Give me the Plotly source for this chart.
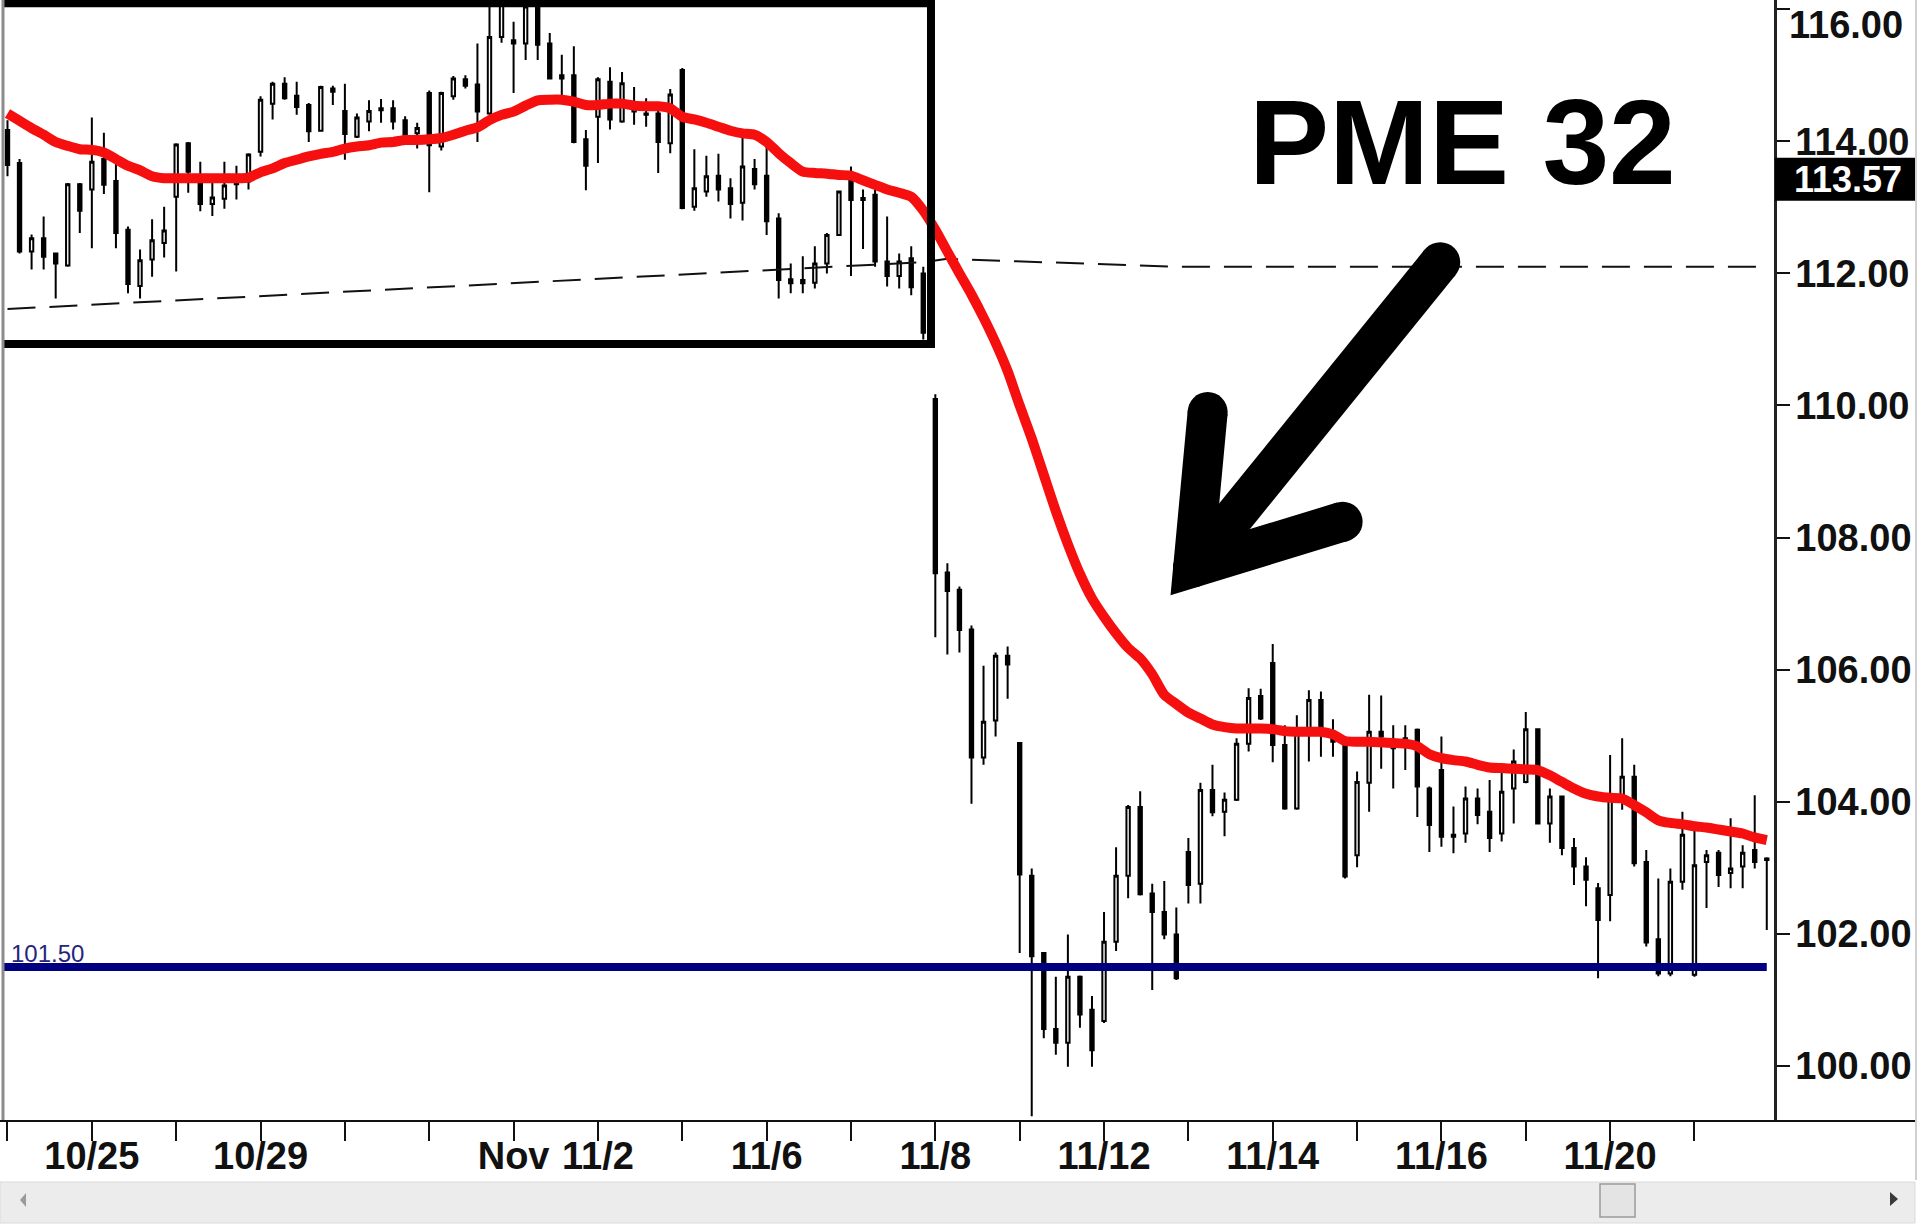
import plotly.graph_objects as go

# ---------------- data ----------------
bar_index = list(range(147))

opens = [114.17, 113.67, 112.33, 112.53, 112.30, 112.12, 113.35, 113.27, 113.73, 113.40,
         112.66, 111.81, 112.21, 112.46, 113.16, 113.97, 113.39, 113.05, 113.13, 113.35,
         113.39, 113.84, 114.57, 114.87, 114.69, 114.55, 114.16, 114.80, 114.46, 114.07,
         114.30, 114.47, 114.50, 114.32, 114.12, 114.73, 113.92, 114.68, 114.94, 114.86,
         114.42, 115.58, 115.53, 115.48, 116.25, 115.48, 115.00, 115.00, 114.03, 114.37,
         114.90, 114.30, 114.45, 114.42, 114.42, 113.97, 115.08, 113.01, 113.24, 113.48,
         113.29, 113.07, 113.58, 113.48, 112.83, 111.91, 111.90, 111.86, 112.15, 112.58,
         113.49, 113.14, 113.19, 112.18, 111.96, 112.23, 112.00,
         110.10, 107.47, 107.21, 106.61, 104.67, 105.23, 106.21, 104.89, 102.88, 101.71,
         100.56, 100.35, 101.35, 100.85, 100.68, 101.88, 102.88, 103.92, 102.61, 102.33, 101.99,
         103.24, 102.76, 104.18, 103.85, 104.03, 104.88, 105.60, 106.10, 104.86, 103.90,
         105.06, 105.54, 104.99, 104.88, 103.19, 104.29, 105.06, 104.86, 104.93, 105.09,
         104.20, 104.48, 103.50, 103.52, 104.05, 103.85, 103.52, 104.20, 104.30, 105.10,
         103.67, 104.08, 103.30, 103.02, 102.69, 102.59, 104.03, 104.38, 103.09, 101.92,
         101.40, 102.79, 101.38, 103.09, 103.23, 102.92, 103.02, 103.27, 103.14]

highs = [114.32, 113.73, 112.59, 112.86, 112.30, 113.37, 113.37, 114.36, 114.13, 113.67,
         112.71, 112.36, 112.82, 113.01, 113.97, 113.99, 113.69, 113.39, 113.69, 113.63,
         113.82, 114.68, 114.90, 114.97, 114.90, 114.58, 114.84, 114.84, 114.87, 114.42,
         114.62, 114.64, 114.62, 114.38, 114.28, 114.77, 114.75, 114.99, 115.00, 115.48,
         116.06, 116.40, 115.81, 116.30, 116.40, 115.64, 115.31, 115.44, 114.17, 114.97,
         115.12, 115.05, 114.82, 114.65, 114.47, 114.79, 115.11, 113.88, 113.78, 113.81,
         113.44, 114.05, 113.73, 113.92, 112.91, 112.15, 112.26, 112.41, 112.61, 113.25,
         113.62, 113.27, 113.27, 112.86, 112.30, 112.41, 112.10,
         110.17, 107.61, 107.26, 106.67, 106.06, 106.26, 106.35, 104.89, 102.99, 101.71,
         101.35, 101.99, 101.37, 101.06, 102.33, 103.31, 103.95, 104.16, 102.76, 102.80, 102.40,
         103.45, 104.29, 104.56, 104.14, 104.96, 105.72, 105.71, 106.39, 105.16, 105.31,
         105.69, 105.67, 105.25, 104.91, 104.46, 105.62, 105.61, 105.16, 105.16, 105.11,
         104.23, 104.99, 103.93, 104.23, 104.20, 104.33, 104.53, 104.79, 105.36, 105.11,
         104.20, 104.09, 103.45, 103.16, 102.77, 104.71, 104.96, 104.56, 103.27, 102.84,
         102.99, 103.85, 103.60, 103.27, 103.27, 103.75, 103.34, 104.10, 103.16]

lows = [113.47, 112.30, 112.06, 112.06, 111.62, 112.10, 112.61, 112.38, 113.20, 112.38,
        111.70, 111.62, 111.95, 112.24, 112.03, 113.22, 112.94, 112.87, 112.98, 113.12,
        113.27, 113.77, 114.33, 114.63, 114.40, 113.99, 114.15, 114.55, 113.72, 114.05,
        114.15, 114.28, 114.18, 114.07, 113.89, 113.23, 113.86, 114.63, 114.80, 113.99,
        114.40, 115.49, 114.73, 115.23, 115.23, 114.95, 114.68, 113.97, 113.26, 113.67,
        114.18, 114.28, 114.25, 114.22, 113.52, 113.82, 112.97, 112.95, 113.16, 113.09,
        112.83, 112.80, 113.27, 112.58, 111.62, 111.70, 111.70, 111.77, 112.00, 112.58,
        111.96, 112.37, 112.10, 111.80, 111.77, 111.67, 111.00,
        106.49, 106.23, 106.26, 103.97, 104.56, 104.99, 105.56, 101.71, 99.24, 100.42,
        100.17, 99.99, 100.58, 99.99, 100.65, 101.74, 102.54, 102.58, 101.15, 101.92, 101.30,
        102.46, 102.46, 103.78, 103.48, 104.01, 104.76, 105.24, 104.60, 103.88, 103.88,
        104.61, 104.68, 104.68, 102.84, 103.01, 103.85, 104.50, 104.20, 104.48, 103.77,
        103.24, 103.32, 103.22, 103.38, 103.66, 103.24, 103.40, 103.67, 104.28, 103.66,
        103.38, 103.19, 102.74, 102.42, 101.33, 102.19, 103.88, 103.02, 101.81, 101.36,
        101.36, 102.67, 101.35, 102.39, 102.71, 102.69, 102.69, 102.99, 102.06]

closes = [113.64, 112.33, 112.53, 112.25, 112.15, 113.35, 112.95, 113.69, 113.34, 112.61,
          111.84, 112.20, 112.50, 112.65, 113.95, 113.54, 113.05, 113.15, 113.33, 113.39,
          113.80, 114.63, 114.87, 114.65, 114.52, 114.15, 114.82, 114.75, 114.11, 114.36,
          114.46, 114.50, 114.30, 114.10, 114.20, 113.94, 114.73, 114.95, 114.84, 114.45,
          115.58, 116.20, 115.48, 116.04, 115.46, 114.95, 114.95, 113.99, 113.63, 114.94,
          114.33, 114.88, 114.53, 114.40, 113.99, 114.71, 112.99, 113.29, 113.47, 113.27,
          113.05, 113.62, 113.35, 112.79, 111.90, 111.85, 111.85, 112.15, 112.58, 113.24,
          113.11, 113.11, 112.18, 111.96, 112.18, 111.79, 111.10,
          107.46, 107.19, 106.60, 104.67, 105.21, 106.21, 106.08, 102.90, 101.66, 100.56,
          100.35, 101.35, 100.78, 100.24, 101.88, 102.88, 103.92, 102.60, 102.33, 101.99, 101.33,
          102.74, 104.18, 103.84, 104.03, 104.88, 105.57, 105.26, 104.86, 103.90, 105.11,
          105.54, 105.09, 104.91, 102.87, 104.30, 105.06, 104.99, 104.81, 104.96, 104.23,
          103.65, 103.47, 103.47, 104.05, 103.80, 103.45, 104.15, 104.61, 105.10, 103.67,
          104.08, 103.30, 103.02, 102.82, 102.21, 104.10, 104.38, 103.07, 101.87, 101.40,
          102.79, 103.50, 103.04, 103.19, 102.89, 102.99, 103.23, 103.09, 103.12]

pme32 = [114.42, 114.31, 114.20, 114.10, 113.99, 113.93, 113.88, 113.87, 113.83, 113.73,
         113.63, 113.56, 113.47, 113.44, 113.44, 113.44, 113.44, 113.44, 113.44, 113.44,
         113.45, 113.53, 113.59, 113.67, 113.72, 113.77, 113.81, 113.84, 113.89, 113.92,
         113.94, 113.98, 113.99, 114.02, 114.02, 114.03, 114.05, 114.10, 114.16, 114.21,
         114.32, 114.40, 114.45, 114.54, 114.62, 114.63, 114.63, 114.60, 114.55, 114.55,
         114.57, 114.57, 114.54, 114.53, 114.53, 114.50, 114.37, 114.33, 114.28, 114.22,
         114.16, 114.12, 114.10, 113.99, 113.82, 113.67, 113.54, 113.52, 113.51, 113.49,
         113.48, 113.41, 113.34, 113.27, 113.22, 113.16, 112.95, 112.66, 112.33, 112.00,
         111.68, 111.33, 110.95, 110.52, 110.00, 109.50, 108.95, 108.40, 107.90, 107.45,
         107.08, 106.80, 106.55, 106.33, 106.17, 105.93, 105.62, 105.48, 105.35, 105.26,
         105.17, 105.13, 105.11, 105.11, 105.11, 105.10, 105.07, 105.06, 105.06, 105.06,
         105.02, 104.92, 104.91, 104.91, 104.90, 104.89, 104.88, 104.84, 104.72, 104.66,
         104.63, 104.61, 104.56, 104.52, 104.51, 104.50, 104.49, 104.48, 104.40, 104.30,
         104.20, 104.12, 104.08, 104.06, 104.05, 103.95, 103.84, 103.72, 103.68, 103.66,
         103.63, 103.61, 103.58, 103.55, 103.52, 103.46, 103.42]

trend_x = [0, 76, 78, 97, 146]
trend_y = [111.46, 112.17, 112.22, 112.10, 112.10]

support_level = 101.50
support_label = "101.50"
price_box_value = 113.42
price_box_label = "113.57"
title_text = "PME 32"

y_ticks = [100, 102, 104, 106, 108, 110, 112, 114, 116]
x_tick_positions = list(range(0, 147, 7))
x_tick_names = {7: "10/25", 21: "10/29", 42: "Nov", 49: "11/2", 63: "11/6",
                77: "11/8", 91: "11/12", 105: "11/14", 119: "11/16", 133: "11/20"}

# arrow drawn on the chart (centre line of the brush stroke, in chart units)
arrow_x = [118.9, 98.4, None, 99.6, 98.4, 110.8]
arrow_y = [112.17, 107.55, None, 109.90, 107.55, 108.24]

# box drawn around the first part of the chart (chart units)
box_x = [-3, 76.64]
box_y = [110.93, 116.09]

# ---------------- layout geometry ----------------
W, H = 1922, 1225
ML, MR, MT, MB = 3, 148, 0, 104
PW = W - ML - MR
PH = H - MT - MB
X_RANGE = [-0.373, 146.6]
Y_RANGE = [99.167, 116.139]


def px(x):
    return (x - ML) / PW


def py(y):
    return (H - MB - y) / PH


FONT = "Liberation Sans, Arial, sans-serif"

# the top label would be cut by the page edge: it is drawn just below the edge instead
top_tick = max(y_ticks)
y_tick_text = [("" if v == top_tick else f"{v:.2f}") for v in y_ticks]

fig = go.Figure()

fig.add_trace(go.Candlestick(
    x=bar_index, open=opens, high=highs, low=lows, close=closes,
    increasing=dict(line=dict(color="#000000", width=2), fillcolor="#ffffff"),
    decreasing=dict(line=dict(color="#000000", width=2), fillcolor="#000000"),
    whiskerwidth=0, showlegend=False, hoverinfo="skip",
))

fig.add_trace(go.Scatter(
    x=trend_x, y=trend_y, mode="lines",
    line=dict(color="#111111", width=2, dash="28px,14px"),
    showlegend=False, hoverinfo="skip",
))

fig.add_trace(go.Scatter(
    x=bar_index, y=pme32, mode="lines",
    line=dict(color="#f50f0f", width=10, shape="spline", smoothing=0.6),
    showlegend=False, hoverinfo="skip",
))

fig.add_trace(go.Scatter(
    x=[X_RANGE[0] - 1, bar_index[-1]], y=[support_level, support_level], mode="lines",
    line=dict(color="#000080", width=8),
    showlegend=False, hoverinfo="skip",
))

fig.add_trace(go.Scatter(
    x=arrow_x, y=arrow_y, mode="lines+markers",
    line=dict(color="#000000", width=40),
    marker=dict(color="#000000", size=40, line=dict(width=0)),
    showlegend=False, hoverinfo="skip", connectgaps=False,
))

shapes = []
# black box around the first part
shapes.append(dict(type="rect", xref="x", yref="y", x0=box_x[0], x1=box_x[1],
                   y0=box_y[0], y1=box_y[1], line=dict(color="#000000", width=8),
                   fillcolor="rgba(0,0,0,0)", layer="above"))
# left border of plot
shapes.append(dict(type="line", xref="paper", yref="paper", x0=0, x1=0, y0=0, y1=1,
                   line=dict(color="#8c8c8c", width=3), layer="above"))
# x axis line across full width
shapes.append(dict(type="line", xref="paper", yref="paper", x0=px(0), x1=px(1915),
                   y0=py(1121), y1=py(1121), line=dict(color="#111111", width=2), layer="above"))
# right faint edge
shapes.append(dict(type="line", xref="paper", yref="paper", x0=px(1916), x1=px(1916),
                   y0=py(0), y1=py(1180), line=dict(color="#d0d0d0", width=2), layer="above"))
# price box on the axis
shapes.append(dict(type="rect", xref="paper", yref="y", x0=px(1775), x1=px(1915),
                   y0=113.10, y1=113.75, fillcolor="#000000", line=dict(width=0), layer="above"))
# scrollbar
shapes.append(dict(type="rect", xref="paper", yref="paper", x0=px(0), x1=px(1915),
                   y0=py(1223), y1=py(1182), fillcolor="#ececec",
                   line=dict(color="#dadada", width=1), layer="above"))
shapes.append(dict(type="rect", xref="paper", yref="paper", x0=px(1600), x1=px(1635),
                   y0=py(1217), y1=py(1184), fillcolor="#e4e4e4",
                   line=dict(color="#9a9a9a", width=1.5), layer="above"))
shapes.append(dict(type="path", xref="paper", yref="paper",
                   path=f"M {px(26)},{py(1193)} L {px(20)},{py(1200)} L {px(26)},{py(1207)} Z",
                   fillcolor="#9a9a9a", line=dict(width=0), layer="above"))
shapes.append(dict(type="path", xref="paper", yref="paper",
                   path=f"M {px(1890)},{py(1192)} L {px(1898)},{py(1199)} L {px(1890)},{py(1206)} Z",
                   fillcolor="#3a3a3a", line=dict(width=0), layer="above"))

annotations = [
    dict(text=title_text, xref="paper", yref="paper", x=px(1462), y=py(142),
         xanchor="center", yanchor="middle", showarrow=False,
         font=dict(family=FONT, size=120, color="#000000", weight="bold")),
    dict(text=price_box_label, xref="paper", yref="y", x=px(1792), y=price_box_value,
         xanchor="left", yanchor="middle", showarrow=False,
         font=dict(family=FONT, size=36, color="#ffffff", weight="bold")),
    dict(text=support_label, xref="paper", yref="y", x=px(9), y=support_level - 0.03,
         xanchor="left", yanchor="bottom", showarrow=False,
         font=dict(family=FONT, size=24, color="#25257a")),
    dict(text=f"{top_tick:.2f}", xref="paper", yref="paper", x=px(1788), y=1.0,
         xanchor="left", yanchor="top", showarrow=False, borderpad=0, yshift=-3,
         font=dict(family=FONT, size=38, color="#111111", weight="bold")),
]

fig.update_layout(
    width=W, height=H,
    margin=dict(l=ML, r=MR, t=MT, b=MB, autoexpand=False),
    paper_bgcolor="#ffffff", plot_bgcolor="#ffffff",
    showlegend=False, hovermode=False, boxgap=0.6,
    shapes=shapes, annotations=annotations,
    xaxis=dict(
        range=X_RANGE, rangeslider=dict(visible=False), automargin=False,
        tickmode="array", tickvals=x_tick_positions,
        ticktext=[x_tick_names.get(t, "") for t in x_tick_positions],
        ticks="outside", ticklen=19, tickwidth=2, tickcolor="#111111",
        showgrid=False, zeroline=False, showline=False,
        ticklabeloverflow="allow", ticklabelstandoff=-18,
        tickfont=dict(family=FONT, size=38, color="#111111", weight="bold"),
    ),
    yaxis=dict(
        range=Y_RANGE, side="right", automargin=False,
        tickmode="array", tickvals=y_ticks, ticktext=y_tick_text,
        ticks="outside", ticklen=13, tickwidth=2, tickcolor="#111111",
        showline=True, linecolor="#222222", linewidth=2.5,
        showgrid=False, zeroline=False,
        ticklabeloverflow="allow", ticklabelstandoff=-2,
        tickfont=dict(family=FONT, size=38, color="#111111", weight="bold"),
    ),
)

fig.write_html(
    "out.html",
    config={"displayModeBar": False},
    post_script=("document.body.style.margin='0';"
                 "document.body.style.overflow='hidden';"
                 "document.documentElement.style.overflow='hidden';"),
)
